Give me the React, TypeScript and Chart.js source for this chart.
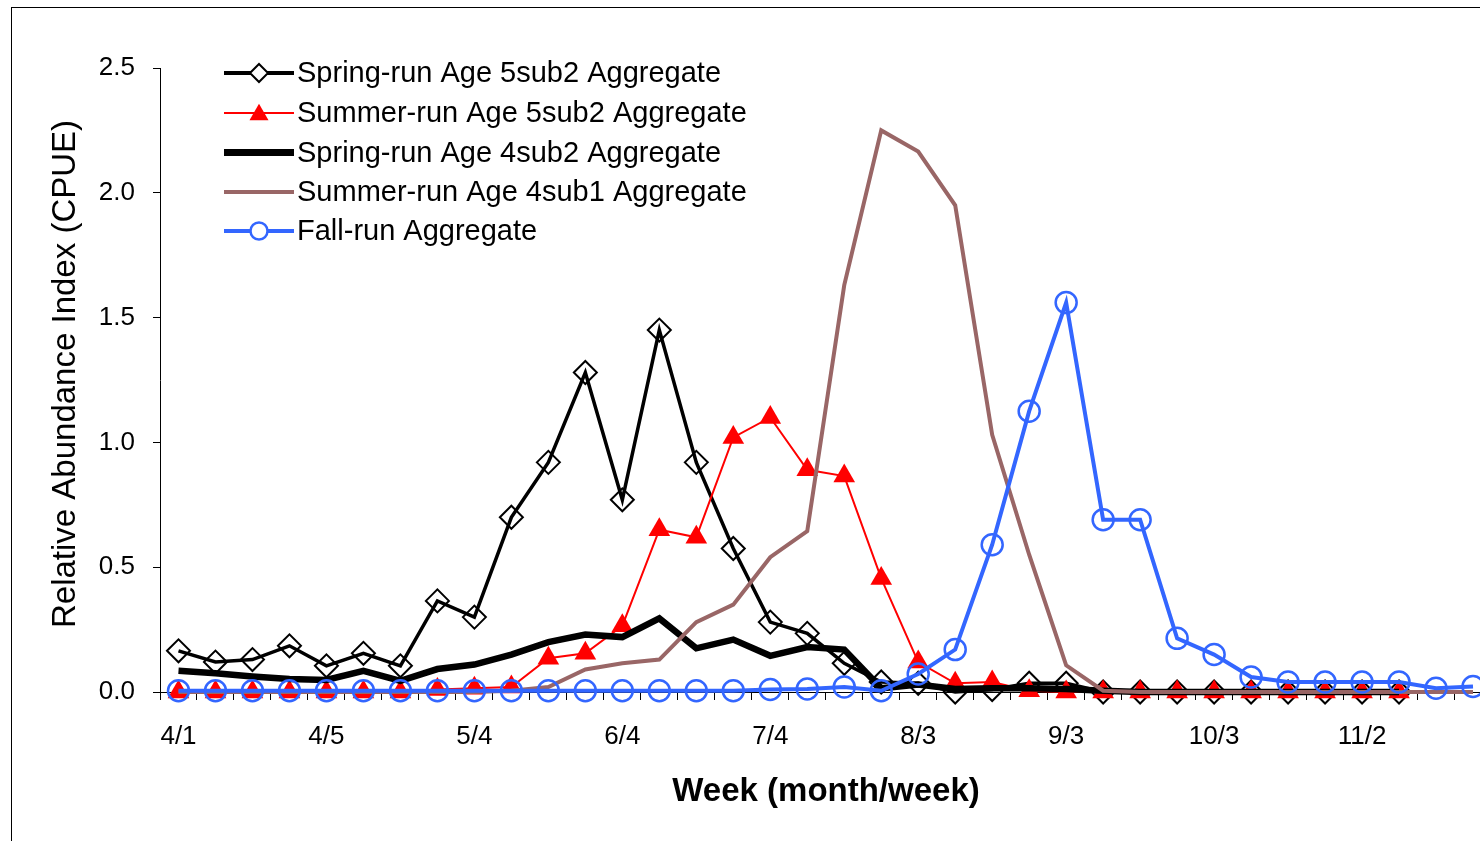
import React, { useEffect, useRef } from 'react';
import { Chart, registerables } from 'chart.js';

Chart.register(...registerables);

const weekLabels = [
  '4/1', '4/2', '4/3', '4/4', '4/5',
  '5/1', '5/2', '5/3', '5/4',
  '6/1', '6/2', '6/3', '6/4',
  '7/1', '7/2', '7/3', '7/4', '7/5',
  '8/1', '8/2', '8/3', '8/4',
  '9/1', '9/2', '9/3', '9/4',
  '10/1', '10/2', '10/3', '10/4', '10/5',
  '11/1', '11/2', '11/3', '11/4', '11/5',
];

const yTicks = [0, 0.5, 1.0, 1.5, 2.0, 2.5];

const seriesNames = [
  'Spring-run Age 5sub2 Aggregate',
  'Summer-run Age 5sub2 Aggregate',
  'Spring-run Age 4sub2 Aggregate',
  'Summer-run Age 4sub1 Aggregate',
  'Fall-run Aggregate',
];

const spring5sub2 = [
  0.165, 0.12, 0.13, 0.185, 0.105, 0.155, 0.105, 0.365, 0.30, 0.70,
  0.92, 1.28, 0.77, 1.45, 0.92, 0.575, 0.28, 0.235, 0.115, 0.04,
  0.035, 0.0, 0.01, 0.035, 0.035, 0, 0, 0, 0, 0,
  0, 0, 0, 0, null, null,
];

const summer5sub2 = [
  0, 0, 0, 0, 0, 0, 0, 0.01, 0.015, 0.02,
  0.135, 0.155, 0.265, 0.65, 0.62, 1.02, 1.10, 0.89, 0.865, 0.455,
  0.12, 0.035, 0.04, 0.005, 0, 0, 0, 0, 0, 0,
  0, 0, 0, 0, null, null,
];

const spring4sub2 = [
  0.085, 0.075, 0.062, 0.052, 0.048, 0.085, 0.045, 0.092, 0.11, 0.15,
  0.20, 0.23, 0.22, 0.295, 0.175, 0.21, 0.145, 0.18, 0.17, 0.015,
  0.03, 0.012, 0.015, 0.015, 0.012, 0.005, 0, 0, 0, 0,
  0, 0, 0, 0, null, null,
];

const summer4sub1 = [
  0, 0, 0, 0, 0, 0, 0, 0, 0, 0.005,
  0.02, 0.09, 0.115, 0.13, 0.28, 0.35, 0.54, 0.645, 1.63, 2.25,
  2.165, 1.95, 1.03, 0.55, 0.107, 0.005, 0, 0, 0, 0,
  0, 0, 0, 0, 0, 0,
];

const fallRun = [
  0.005, 0.005, 0.005, 0.005, 0.005, 0.005, 0.005, 0.005, 0.005, 0.005,
  0.005, 0.005, 0.005, 0.005, 0.005, 0.005, 0.01, 0.012, 0.02, 0.005,
  0.072, 0.17, 0.59, 1.125, 1.56, 0.69, 0.69, 0.215, 0.15, 0.06,
  0.04, 0.04, 0.04, 0.04, 0.015, 0.022,
];

const FONT = '"Liberation Sans", Arial, Helvetica, sans-serif';

type LegendSpec = { color: string; width: number; marker: string | null; r: number };
const legendSpecs: LegendSpec[] = [
  { color: '#000000', width: 4, marker: 'diamond', r: 9 },
  { color: '#FF0000', width: 2, marker: 'triangle', r: 11 },
  { color: '#000000', width: 7, marker: null, r: 0 },
  { color: '#996666', width: 4, marker: null, r: 0 },
  { color: '#3366FF', width: 4, marker: 'circle', r: 8.5 },
];

const decorPlugin = {
  id: 'decor',
  afterDraw(chart: any) {
    const ctx: CanvasRenderingContext2D = chart.ctx;
    ctx.save();
    // outer frame
    ctx.strokeStyle = '#000';
    ctx.lineWidth = 1;
    ctx.strokeRect(11.5, 7.5, 4000, 4000);

    // y title
    ctx.fillStyle = '#000';
    ctx.font = `33px ${FONT}`;
    ctx.textAlign = 'center';
    ctx.textBaseline = 'middle';
    ctx.save();
    ctx.translate(66, 374);
    ctx.rotate(-Math.PI / 2);
    ctx.fillText('Relative Abundance Index (CPUE)', 0, 0);
    ctx.restore();

    // x title
    ctx.font = `bold 33px ${FONT}`;
    ctx.fillText('Week (month/week)', 826, 792);

    // legend
    const rowsY = [73, 113, 152.5, 192, 231];
    const x0 = 224;
    const x1 = 294;
    const xm = (x0 + x1) / 2;
    legendSpecs.forEach((s, i) => {
      const y = rowsY[i];
      ctx.strokeStyle = s.color;
      ctx.lineWidth = s.width;
      ctx.beginPath();
      ctx.moveTo(x0, y);
      ctx.lineTo(x1, y);
      ctx.stroke();
      if (s.marker) {
        ctx.beginPath();
        if (s.marker === 'diamond') {
          ctx.moveTo(xm - s.r, y);
          ctx.lineTo(xm, y - s.r);
          ctx.lineTo(xm + s.r, y);
          ctx.lineTo(xm, y + s.r);
          ctx.closePath();
          ctx.fillStyle = '#fff';
          ctx.fill();
          ctx.lineWidth = 2;
          ctx.strokeStyle = s.color;
          ctx.stroke();
        } else if (s.marker === 'triangle') {
          const h = s.r * 1.5;
          const w = s.r * 0.866;
          ctx.moveTo(xm, y - h / 2 - 1);
          ctx.lineTo(xm + w, y + h / 2 - 1);
          ctx.lineTo(xm - w, y + h / 2 - 1);
          ctx.closePath();
          ctx.fillStyle = s.color;
          ctx.fill();
        } else if (s.marker === 'circle') {
          ctx.arc(xm, y, s.r, 0, Math.PI * 2);
          ctx.fillStyle = '#fff';
          ctx.fill();
          ctx.lineWidth = 2.5;
          ctx.strokeStyle = s.color;
          ctx.stroke();
        }
      }
      ctx.fillStyle = '#000';
      ctx.font = `29px ${FONT}`;
      ctx.textAlign = 'left';
      ctx.textBaseline = 'middle';
      ctx.fillText(seriesNames[i], 297, y + 1);
    });
    ctx.restore();
  },
};

export default function App() {
  const ref = useRef<HTMLCanvasElement>(null);

  useEffect(() => {
    const canvas = ref.current;
    if (!canvas) return;
    Chart.defaults.font.family = FONT;
    const chart = new Chart(canvas, {
      type: 'line',
      data: {
        labels: weekLabels,
        datasets: [
          {
            label: seriesNames[0],
            data: spring5sub2,
            borderColor: '#000000',
            borderWidth: 3.5,
            pointStyle: 'rectRot',
            pointRadius: 11.5,
            pointBorderWidth: 2,
            pointBorderColor: '#000000',
            pointBackgroundColor: 'rgba(0,0,0,0)',
            tension: 0,
            clip: false,
            order: 4,
          },
          {
            label: seriesNames[1],
            data: summer5sub2,
            borderColor: '#FF0000',
            borderWidth: 2,
            pointStyle: 'triangle',
            pointRadius: 12.5,
            pointBorderWidth: 0,
            pointBackgroundColor: '#FF0000',
            pointBorderColor: '#FF0000',
            tension: 0,
            clip: false,
            order: 3,
          },
          {
            label: seriesNames[2],
            data: spring4sub2,
            borderColor: '#000000',
            borderWidth: 6.5,
            pointRadius: 0,
            tension: 0,
            clip: false,
            order: 2,
          },
          {
            label: seriesNames[3],
            data: summer4sub1,
            borderColor: '#996666',
            borderWidth: 4,
            pointRadius: 0,
            tension: 0,
            clip: false,
            order: 1,
          },
          {
            label: seriesNames[4],
            data: fallRun,
            borderColor: '#3366FF',
            borderWidth: 4,
            pointStyle: 'circle',
            pointRadius: 10.5,
            pointBorderWidth: 2.5,
            pointBorderColor: '#3366FF',
            pointBackgroundColor: 'rgba(0,0,0,0)',
            tension: 0,
            clip: false,
            order: 0,
          },
        ] as any,
      },
      options: {
        responsive: false,
        animation: false,
        events: [],
        layout: { padding: { left: 0, right: 5, top: 68, bottom: 0 } },
        plugins: {
          legend: { display: false },
          tooltip: { enabled: false },
          title: { display: false },
        },
        scales: {
          x: {
            type: 'category',
            offset: true,
            grid: {
              display: true,
              drawOnChartArea: false,
              drawTicks: true,
              tickLength: 8,
              offset: true,
              color: '#000000',
              lineWidth: 1,
            },
            border: { display: true, color: '#000000', width: 1 },
            ticks: {
              autoSkip: false,
              maxRotation: 0,
              minRotation: 0,
              color: '#000000',
              padding: 21,
              font: { family: FONT, size: 26 },
              callback: (_v: any, i: number) => (i % 4 === 0 ? weekLabels[i] : ''),
            },
            afterFit: (s: any) => {
              s.height = 149;
            },
          },
          y: {
            type: 'linear',
            min: yTicks[0],
            max: yTicks[yTicks.length - 1],
            grid: {
              display: true,
              drawOnChartArea: false,
              drawTicks: true,
              tickLength: 7,
              color: '#000000',
              lineWidth: 1,
            },
            border: { display: true, color: '#000000', width: 1 },
            afterBuildTicks: (s: any) => {
              s.ticks = yTicks.map((v) => ({ value: v }));
            },
            ticks: {
              color: '#000000',
              padding: 18,
              font: { family: FONT, size: 26 },
              callback: (v: any) => Number(v).toFixed(1),
            },
            afterFit: (s: any) => {
              s.width = 160;
            },
          },
        },
      } as any,
      plugins: [decorPlugin],
    });
    return () => chart.destroy();
  }, []);

  return (
    <div
      style={{
        position: 'fixed',
        left: 0,
        top: 0,
        width: 1480,
        height: 841,
        overflow: 'hidden',
        background: '#fff',
      }}
    >
      <canvas
        ref={ref}
        width={1505}
        height={841}
        style={{ position: 'absolute', left: 0, top: 0, width: 1505, height: 841 }}
      />
    </div>
  );
}
